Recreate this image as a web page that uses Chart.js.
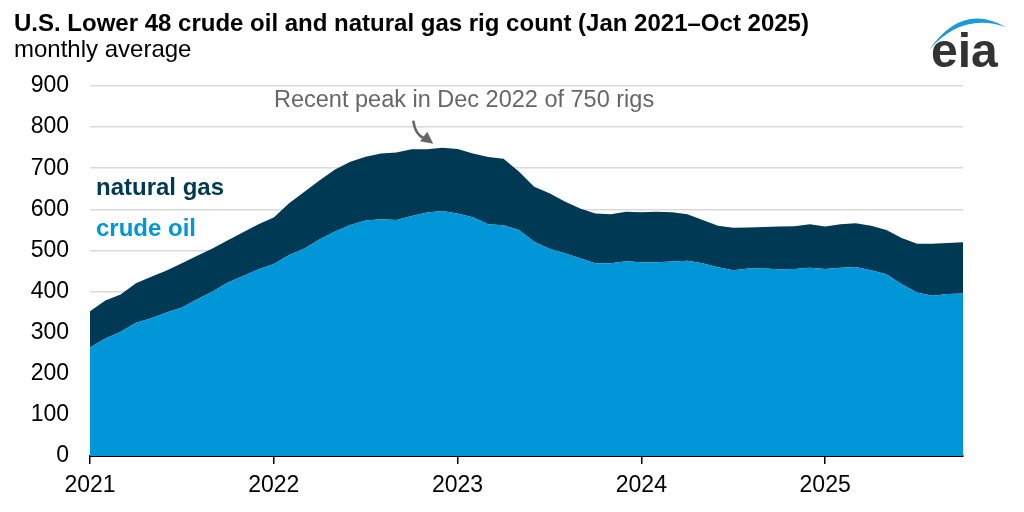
<!DOCTYPE html>
<html>
<head>
<meta charset="utf-8">
<script src="https://cdn.jsdelivr.net/npm/chart.js@4.4.1/dist/chart.umd.min.js"></script>
<style>
  html, body { margin: 0; padding: 0; background: #fff; }
  #wrap { width: 1024px; height: 512px; position: relative; }
</style>
</head>
<body>
<div id="wrap"><canvas id="rigChart" width="1024" height="512"></canvas></div>
<script>
// monthly averages, Jan 2021 - Oct 2025
const months = [];
for (let y = 2021; y <= 2025; y++) {
  for (let m = 1; m <= 12; m++) {
    if (y === 2025 && m > 10) break;
    months.push(y + '-' + String(m).padStart(2, '0'));
  }
}
const yearTicks = ['2021', '2022', '2023', '2024', '2025'];
const yTicks = [0, 100, 200, 300, 400, 500, 600, 700, 800, 900];

const crudeOil = [
  264, 286, 302, 324, 335, 349, 361, 381, 400, 422, 438, 454,
  467, 489, 505, 527, 546, 562, 573, 576, 574, 584, 592, 596,
  590, 581, 564, 561, 550, 521, 504, 493, 481, 469, 469, 474,
  471, 471, 473, 475, 469, 459, 452, 456, 456, 454, 455, 458,
  455, 458, 460, 452, 442, 418, 398, 390, 394, 395
];
const naturalGas = [
  88, 92, 91, 96, 101, 102, 108, 106, 105, 103, 106, 110,
  113, 126, 138, 144, 151, 154, 155, 160, 164, 162, 154, 154,
  157, 155, 163, 162, 142, 134, 135, 126, 121, 121, 119, 120,
  122, 123, 120, 113, 105, 101, 103, 100, 101, 104, 104, 106,
  103, 106, 106, 108, 108, 112, 118, 126, 124, 125
];

const FONT = '"Liberation Sans", Arial, sans-serif';
const OIL_COLOR = '#0096d7';
const GAS_COLOR = '#003953';

// title, series labels, annotation and logo
const decorPlugin = {
  id: 'decor',
  afterDraw(chart) {
    const ctx = chart.ctx;
    const xs = chart.scales.x;
    const ys = chart.scales.y;
    ctx.save();
    ctx.textAlign = 'left';
    ctx.textBaseline = 'alphabetic';

    ctx.fillStyle = '#000';
    ctx.font = 'bold 24px ' + FONT;
    ctx.fillText('U.S. Lower 48 crude oil and natural gas rig count (Jan 2021\u2013Oct 2025)', 14, 31);
    ctx.font = '24px ' + FONT;
    ctx.fillText('monthly average', 14, 57);

    ctx.font = 'bold 24px ' + FONT;
    ctx.fillStyle = GAS_COLOR;
    ctx.fillText('natural gas', 96, 195);
    ctx.fillStyle = OIL_COLOR;
    ctx.fillText('crude oil', 96, 236);

    // peak annotation
    ctx.font = '23.5px ' + FONT;
    ctx.fillStyle = '#666';
    ctx.fillText('Recent peak in Dec 2022 of 750 rigs', 274, 107);

    const tipX = xs.getPixelForValue(23) - 9;
    const tipY = ys.getPixelForValue(750) - 4;
    ctx.strokeStyle = '#666';
    ctx.lineWidth = 2.5;
    ctx.beginPath();
    ctx.moveTo(tipX - 20, tipY - 23);
    ctx.quadraticCurveTo(tipX - 18, tipY - 8, tipX - 8, tipY - 5);
    ctx.stroke();
    const ang = Math.atan2(9, 12);
    ctx.fillStyle = '#666';
    ctx.beginPath();
    ctx.moveTo(tipX, tipY);
    ctx.lineTo(tipX - 12 * Math.cos(ang) + 6 * Math.sin(ang), tipY - 12 * Math.sin(ang) - 6 * Math.cos(ang));
    ctx.lineTo(tipX - 12 * Math.cos(ang) - 6 * Math.sin(ang), tipY - 12 * Math.sin(ang) + 6 * Math.cos(ang));
    ctx.closePath();
    ctx.fill();

    // eia logo
    ctx.fillStyle = '#1a9ad6';
    ctx.beginPath();
    ctx.moveTo(929, 50);
    ctx.quadraticCurveTo(962, 2, 1006, 27);
    ctx.quadraticCurveTo(962, 12, 929, 50);
    ctx.closePath();
    ctx.fill();
    ctx.fillStyle = '#333';
    ctx.font = 'bold 48px ' + FONT;
    ctx.fillText('eia', 931, 67);
    ctx.restore();
  }
};

new Chart(document.getElementById('rigChart'), {
  type: 'line',
  data: {
    labels: months,
    datasets: [
      {
        label: 'crude oil',
        data: crudeOil,
        fill: 'origin',
        backgroundColor: OIL_COLOR,
        borderWidth: 0,
        pointRadius: 0,
        tension: 0
      },
      {
        label: 'natural gas',
        data: naturalGas,
        fill: '-1',
        backgroundColor: GAS_COLOR,
        borderWidth: 0,
        pointRadius: 0,
        tension: 0
      }
    ]
  },
  options: {
    responsive: false,
    animation: false,
    layout: { padding: { top: 86, right: 61, left: 0, bottom: 0 } },
    plugins: {
      legend: { display: false },
      tooltip: { enabled: false },
      title: { display: false }
    },
    scales: {
      x: {
        stacked: true,
        offset: false,
        afterFit: (scale) => { scale.height = 56; },
        grid: {
          display: true,
          drawOnChartArea: false,
          drawTicks: true,
          tickLength: 8,
          color: '#000',
          lineWidth: 1.5
        },
        border: { display: true, color: '#000', width: 2 },
        ticks: {
          autoSkip: false,
          maxRotation: 0,
          padding: 8,
          color: '#000',
          font: { family: FONT, size: 23 },
          callback: (val, idx) => (idx % 12 === 0 ? yearTicks[idx / 12] : null)
        }
      },
      y: {
        stacked: true,
        min: yTicks[0],
        max: yTicks[yTicks.length - 1],
        afterFit: (scale) => { scale.width = 90; },
        afterBuildTicks: (scale) => { scale.ticks = yTicks.map(v => ({ value: v })); },
        grid: { color: '#d9d9d9', lineWidth: 1.5, drawTicks: false },
        border: { display: false },
        ticks: {
          padding: 21,
          color: '#000',
          font: { family: FONT, size: 23 }
        }
      }
    }
  },
  plugins: [decorPlugin]
});
</script>
</body>
</html>
